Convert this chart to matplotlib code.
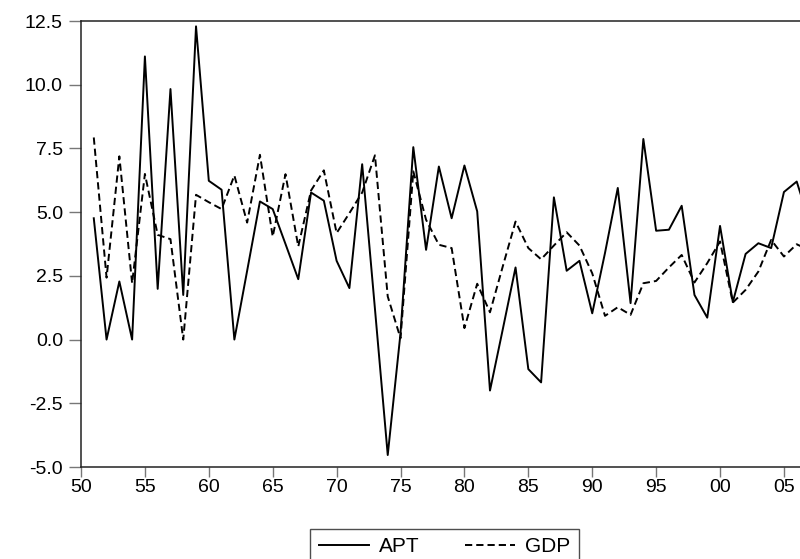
import matplotlib
matplotlib.use("Agg")
import matplotlib.pyplot as plt
from matplotlib.ticker import FixedLocator, FuncFormatter

years = list(range(1951, 2008))
apt = [4.76, 0.0, 2.28, 0.0, 11.11, 1.99, 9.83, 1.75, 12.29, 6.23,
       5.88, 0.0, 2.7, 5.42, 5.12, 3.75, 2.37, 5.77, 5.45, 3.09,
       2.02, 6.88, 1.2, -4.53, 0.25, 7.55, 3.52, 6.79, 4.76, 6.83,
       5.03, -2.0, 0.4, 2.83, -1.16, -1.68, 5.58, 2.70, 3.09, 1.03,
       3.4, 5.95, 1.43, 7.87, 4.27, 4.31, 5.25, 1.75, 0.86, 4.46,
       1.47, 3.36, 3.78, 3.59, 5.79, 6.2, 4.6]
gdp = [7.93, 2.43, 7.19, 2.21, 6.5, 4.11, 3.94, 0.0, 5.68, 5.39,
       5.12, 6.44, 4.59, 7.25, 4.04, 6.49, 3.65, 5.85, 6.64, 4.18,
       4.96, 5.77, 7.23, 1.69, 0.05, 6.6, 4.7, 3.72, 3.59, 0.45,
       2.19, 1.07, 2.87, 4.63, 3.59, 3.15, 3.69, 4.21, 3.69, 2.6,
       0.93, 1.27, 0.97, 2.21, 2.3, 2.83, 3.32, 2.24, 3.0, 3.85,
       1.45, 1.95, 2.67, 3.91, 3.26, 3.74, 3.5]
xticks = list(range(1950, 2006, 5))
yticks = [-5.0, -2.5, 0.0, 2.5, 5.0, 7.5, 10.0, 12.5]

plt.rcParams['font.family'] = ['Liberation Sans', 'DejaVu Sans']
plt.rcParams['lines.scale_dashes'] = False

fig = plt.figure(figsize=(8, 5.59), dpi=100)
ax = fig.add_axes([81/800, 1-467/559, 728.5/800, (467-21)/559])

ax.plot(years, apt, color='black', lw=1.4, label='APT')
l2, = ax.plot(years, gdp, color='black', lw=1.4, label='GDP')
l2.set_dashes([5.2, 2.9])

ax.set_xlim(1950, 2007)
ax.set_ylim(-5, 12.5)
ax.xaxis.set_major_locator(FixedLocator(xticks))
ax.xaxis.set_major_formatter(FuncFormatter(lambda v, p: f"{int(round(v)) % 100:02d}"))
ax.yaxis.set_major_locator(FixedLocator(yticks))
ax.yaxis.set_major_formatter(FuncFormatter(lambda v, p: f"{v:.1f}"))

ax.spines['right'].set_visible(False)
for s in ['left', 'bottom', 'top']:
    ax.spines[s].set_linewidth(1.1)
    ax.spines[s].set_color('#222222')
ax.tick_params(axis='both', direction='out', width=1, color='#777777',
               labelsize=14)
ax.tick_params(axis='y', length=9, pad=4)
ax.tick_params(axis='x', length=7, pad=2)

leg = fig.legend(loc='upper center', bbox_to_anchor=(444.5/800, 1-529/559),
                 ncol=2, frameon=True, fancybox=False, fontsize=15,
                 handlelength=2.4, handletextpad=0.5, columnspacing=2.15,
                 borderpad=0.4, borderaxespad=0)
leg.get_frame().set_edgecolor('#222222')
leg.get_frame().set_linewidth(1.0)

fig.savefig('out.png', dpi=100)
